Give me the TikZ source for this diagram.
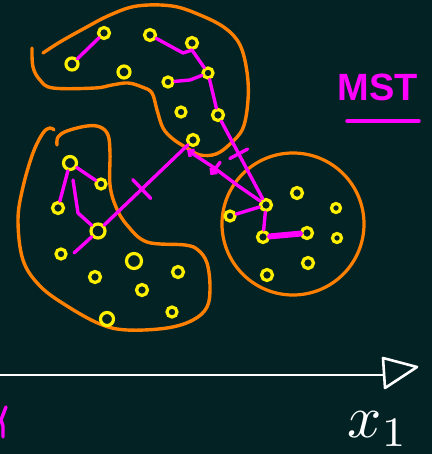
\documentclass[tikz,border=0pt]{standalone}
\usepackage{fontspec}
\setsansfont{Liberation Sans}
\usetikzlibrary{decorations.markings,arrows.meta}
\definecolor{bg}{RGB}{2,34,36}
\definecolor{blob}{RGB}{255,128,0}
\definecolor{pt}{RGB}{255,240,0}
\definecolor{mst}{RGB}{255,0,255}
\tikzset{
  blobline/.style={draw=blob, line width=3.4pt, line cap=round, line join=round},
  ptnode/.style={circle, draw=pt, line width=3.2pt, inner sep=0pt, minimum size=#1},
  ptnode/.default=11pt,
  edge/.style={draw=mst, line width=3.4pt, line cap=round, line join=round},
  cut/.style 2 args={edge, decoration={markings, mark=at position #1 with {\draw[mst, line width=3.4pt, line cap=round] (0,-#2) -- (0,#2);}}, postaction=decorate},
}
\begin{document}
\begin{tikzpicture}[x=1pt, y=-1pt]
\fill[bg] (0,0) rectangle (432,454);
\useasboundingbox (0,0) rectangle (432,454);

% clusters
\draw[blobline] plot[smooth, tension=0.6] coordinates {(43,53) (60,42) (85,28) (110,15) (137,6) (172,6) (200,15) (225,28) (240,45) (247,72) (248,100) (243,128) (230,144) (216,154) (200,155) (187,148) (173,139) (163,128) (157,110) (152,93) (142,87) (128,83) (112,85) (95,88) (53,88) (40,80) (33,67) (32,48)};
\draw[blobline] plot[smooth, tension=0.6] coordinates {(57,145) (58,137) (67,131) (87,126) (100,127) (108,135) (110,153) (110,185) (116,207) (127,225) (147,242) (185,245) (198,250) (207,263) (210,287) (207,307) (193,320) (167,328) (127,330) (100,324) (67,306) (40,286) (23,260) (18,220) (23,187) (33,153) (43,133) (50,128) (54,130)};
\node[circle, draw=blob, line width=3.2pt, minimum size=142pt, inner sep=0pt] (ring) at (293,224) {};

% points, top cluster
\node[ptnode=12pt] (t1) at (72,64) {};
\node[ptnode] (t2) at (104,33) {};
\node[ptnode] (t3) at (150,35) {};
\node[ptnode] (t4) at (192,43) {};
\node[ptnode=12pt] (t5) at (124,72) {};
\node[ptnode=10pt] (t6) at (168,82) {};
\node[ptnode=10pt] (t7) at (208,73) {};
\node[ptnode=10pt] (t8) at (181,112) {};
\node[ptnode=11pt] (t9) at (218,115) {};
\node[ptnode] (t10) at (193,140) {};
% points, bottom-left cluster
\node[ptnode=13pt] (b1) at (70,163) {};
\node[ptnode=10pt] (b2) at (101,184) {};
\node[ptnode] (b3) at (58,208) {};
\node[ptnode=14pt] (b4) at (98,231) {};
\node[ptnode=10pt] (b5) at (61,254) {};
\node[ptnode=15pt] (b6) at (134,261) {};
\node[ptnode] (b7) at (95,277) {};
\node[ptnode] (b8) at (178,272) {};
\node[ptnode=11pt] (b9) at (142,290) {};
\node[ptnode=10pt] (b10) at (172,312) {};
\node[ptnode=13pt] (b11) at (107,319) {};
% points, round cluster
\node[ptnode] (c1) at (297,193) {};
\node[ptnode=10pt] (c2) at (230,216) {};
\node[ptnode] (c3) at (266,205) {};
\node[ptnode=9pt] (c4) at (336,208) {};
\node[ptnode] (c5) at (263,237) {};
\node[ptnode] (c6) at (307,233) {};
\node[ptnode=9pt] (c7) at (337,238) {};
\node[ptnode] (c8) at (308,263) {};
\node[ptnode] (c9) at (267,275) {};

% MST edges inside clusters
\draw[edge] (t1) -- (t2);
\draw[edge] (t3) -- (183,53) -- (t4.south) -- (t7);
\draw[edge] (t6) -- (190,80) -- (t7);
\draw[edge] (t7) -- (t9);
\draw[edge] (b1) -- (b3);
\draw[edge] (b1) -- (b2);
\draw[edge] (73,180) -- (78,213) -- (b4);
\draw[edge] (b4) -- (85,243) -- (74,253);
\draw[edge] (c2) -- (c3);
\draw[edge] (c3) -- (c5);
\draw[edge, line width=6pt] (c5) -- (c6);

% MST edges between clusters (cut)
\draw[cut={0.45}{13pt}] (b4) -- (t10);
\draw[cut={0.42}{10pt}] (t9) -- (c3);
\draw[cut={0.38}{8pt}, {Straight Barb[length=4pt, width=8pt]}-] (187,150) -- (213,167) -- (237,185) -- (c3);

% label
\node[mst, font=\sffamily\bfseries\fontsize{38}{38}\selectfont, inner sep=0pt] (lbl) at (378,87) {MST};
\draw[edge] (347,121) -- (419,121);

% axis
\coordinate (ax0) at (0,375);
\coordinate (ax1) at (385,375);
\draw[white, line width=2.6pt] (ax0) -- (ax1);
\draw[white, line width=2.6pt, line join=round] (383,358) -- (417,367) -- (385,388) -- cycle;
\node[white, inner sep=0pt] (xl) at (378,429) {\scalebox{6}{$x_1$}};

% cut-off fragment at lower left
\draw[edge] (6,407) -- (1,420) -- (3,426) -- (3,437);
\end{tikzpicture}
\end{document}
